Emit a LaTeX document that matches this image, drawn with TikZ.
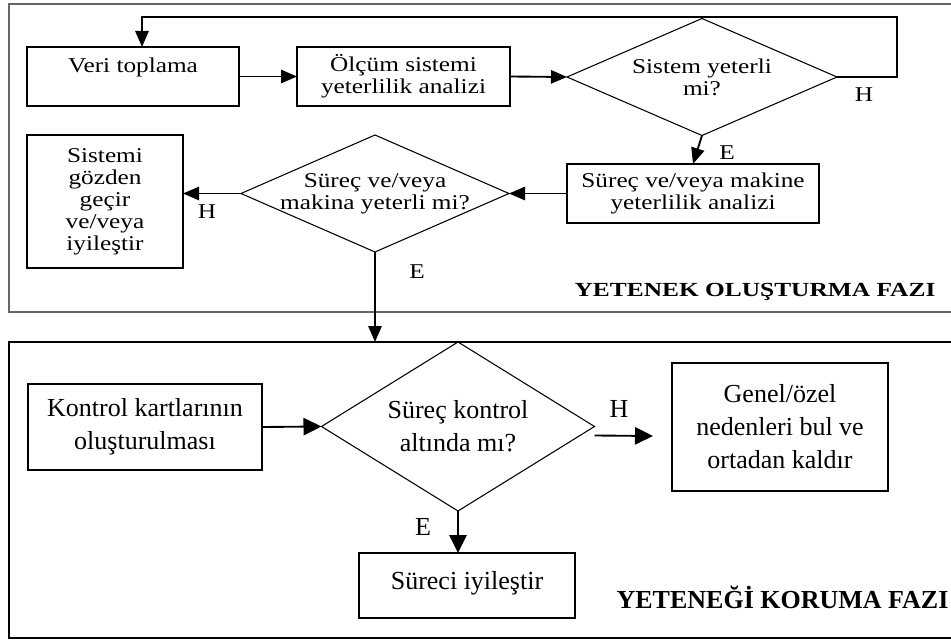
\documentclass[tikz,border=0pt]{standalone}
\usepackage{fontspec}
\setmainfont{Liberation Serif}
\newfontfamily\topfont[FakeStretch=1.2]{Liberation Serif}
\newfontfamily\titlefont[FakeStretch=1.27]{Liberation Serif}
\usetikzlibrary{shapes.geometric,arrows.meta,calc}
\begin{document}
\begin{tikzpicture}[x=0.75pt,y=-0.75pt,
  topbox/.style={draw, line width=1.4pt, inner sep=0pt, outer sep=0pt, align=center, font=\topfont\fontsize{15.8}{16.5}\selectfont},
  botbox/.style={draw, line width=1.4pt, inner sep=0pt, outer sep=0pt, align=center, font=\fontsize{19.5}{24.75}\selectfont},
  dia/.style={draw, diamond, line width=0.8pt, inner sep=0pt, outer sep=0pt},
  arrT/.style={line width=1.4pt, -{Triangle[length=12pt,width=10pt]}},
  arrB/.style={line width=1.4pt, -{Triangle[length=13.5pt,width=13pt]}},
  toplbl/.style={font=\topfont\fontsize{15.8}{16.5}\selectfont, inner sep=0pt, align=center},
  botlbl/.style={font=\fontsize{19.5}{24.75}\selectfont, inner sep=0pt, align=center},
  frameT/.style={draw=black!60, line width=1.5pt},
  frameB/.style={draw=black, line width=1.5pt},
]
\useasboundingbox (0,0) rectangle (951,642);

% phase frames
\draw[frameT] (951,4) -- (9,4) -- (9,312) -- (951,312);
\draw[frameB] (951,342) -- (9,342) -- (9,638) -- (951,638);

% upper phase
\node[topbox, minimum width=212*0.75pt, minimum height=59*0.75pt] (veri) at (133,76.5) {Veri toplama\\\mbox{}};
\node[topbox, minimum width=213*0.75pt, minimum height=59*0.75pt] (olcum) at (403.5,76.5) {Ölçüm sistemi\\yeterlilik analizi};
\node[dia, minimum width=270*0.75pt, minimum height=117*0.75pt,
  label={[toplbl]center:Sistem yeterli\\mi?}] (d1) at (702,77) {};
\node[topbox, minimum width=252*0.75pt, minimum height=59*0.75pt] (box2) at (693,193.5) {Süreç ve/veya makine\\yeterlilik analizi};
\node[dia, minimum width=268*0.75pt, minimum height=117*0.75pt,
  label={[toplbl]center:Süreç ve/veya\\makina yeterli mi?}] (d2) at (375,193.5) {};
\node[topbox, minimum width=156*0.75pt, minimum height=133*0.75pt] (sistemi) at (105,201.5) {Sistemi\\gözden\\geçir\\ve/veya\\iyileştir};

\coordinate (loopR) at (897,17);
\coordinate (loopL) at (142,17);
\coordinate (inB) at (375,342);

\draw[arrT] (d1.east) -| (loopR) -- (loopL) -- (loopL |- veri.north);
\draw[arrT] (veri.east) -- (olcum.west);
\draw[arrT] (olcum.east) -- (d1.west);
\draw[arrT] (d1.south) -- (box2.north);
\draw[arrT] (box2.west) -- (d2.east);
\draw[arrT] (d2.west) -- (d2.west -| sistemi.east);
\draw[arrT] (d2.south) -- (inB);

\node[toplbl] (h1) at (864,95) {H};
\node[toplbl] (e1) at (727,153) {E};
\node[toplbl] (h2) at (207,212) {H};
\node[toplbl] (e2) at (417,272) {E};
\node[font=\titlefont\bfseries\fontsize{15}{18}\selectfont, inner sep=0pt] (t1) at (755,292) {YETENEK OLUŞTURMA FAZI};

% lower phase
\node[botbox, minimum width=234*0.75pt, minimum height=86*0.75pt] (kontrol) at (145,427) {Kontrol kartlarının\\oluşturulması};
\node[dia, minimum width=273*0.75pt, minimum height=169*0.75pt,
  label={[botlbl]center:Süreç kontrol\\altında mı?}] (d3) at (458,426.5) {};
\node[botbox, minimum width=216*0.75pt, minimum height=128*0.75pt] (genel) at (780,427) {Genel/özel\\nedenleri bul ve\\ortadan kaldır};
\node[botbox, minimum width=216*0.75pt, minimum height=65*0.75pt] (sureci) at (467,585.5) {Süreci iyileştir\\[-17pt]\mbox{}};

\draw[arrB] (kontrol.east) -- (d3.west);
\draw[arrB] ($(d3.east)+(0,9)$) -- ($(genel.west)+(-19,9)$);
\draw[arrB] (d3.south) -- (d3.south |- sureci.north);

\node[botlbl] (h3) at (619,409) {H};
\node[botlbl] (e3) at (423,527) {E};
\node[font=\bfseries\fontsize{19.5}{24}\selectfont, inner sep=0pt] (t2) at (782.5,597) {YETENEĞİ KORUMA FAZI};

\end{tikzpicture}
\end{document}
